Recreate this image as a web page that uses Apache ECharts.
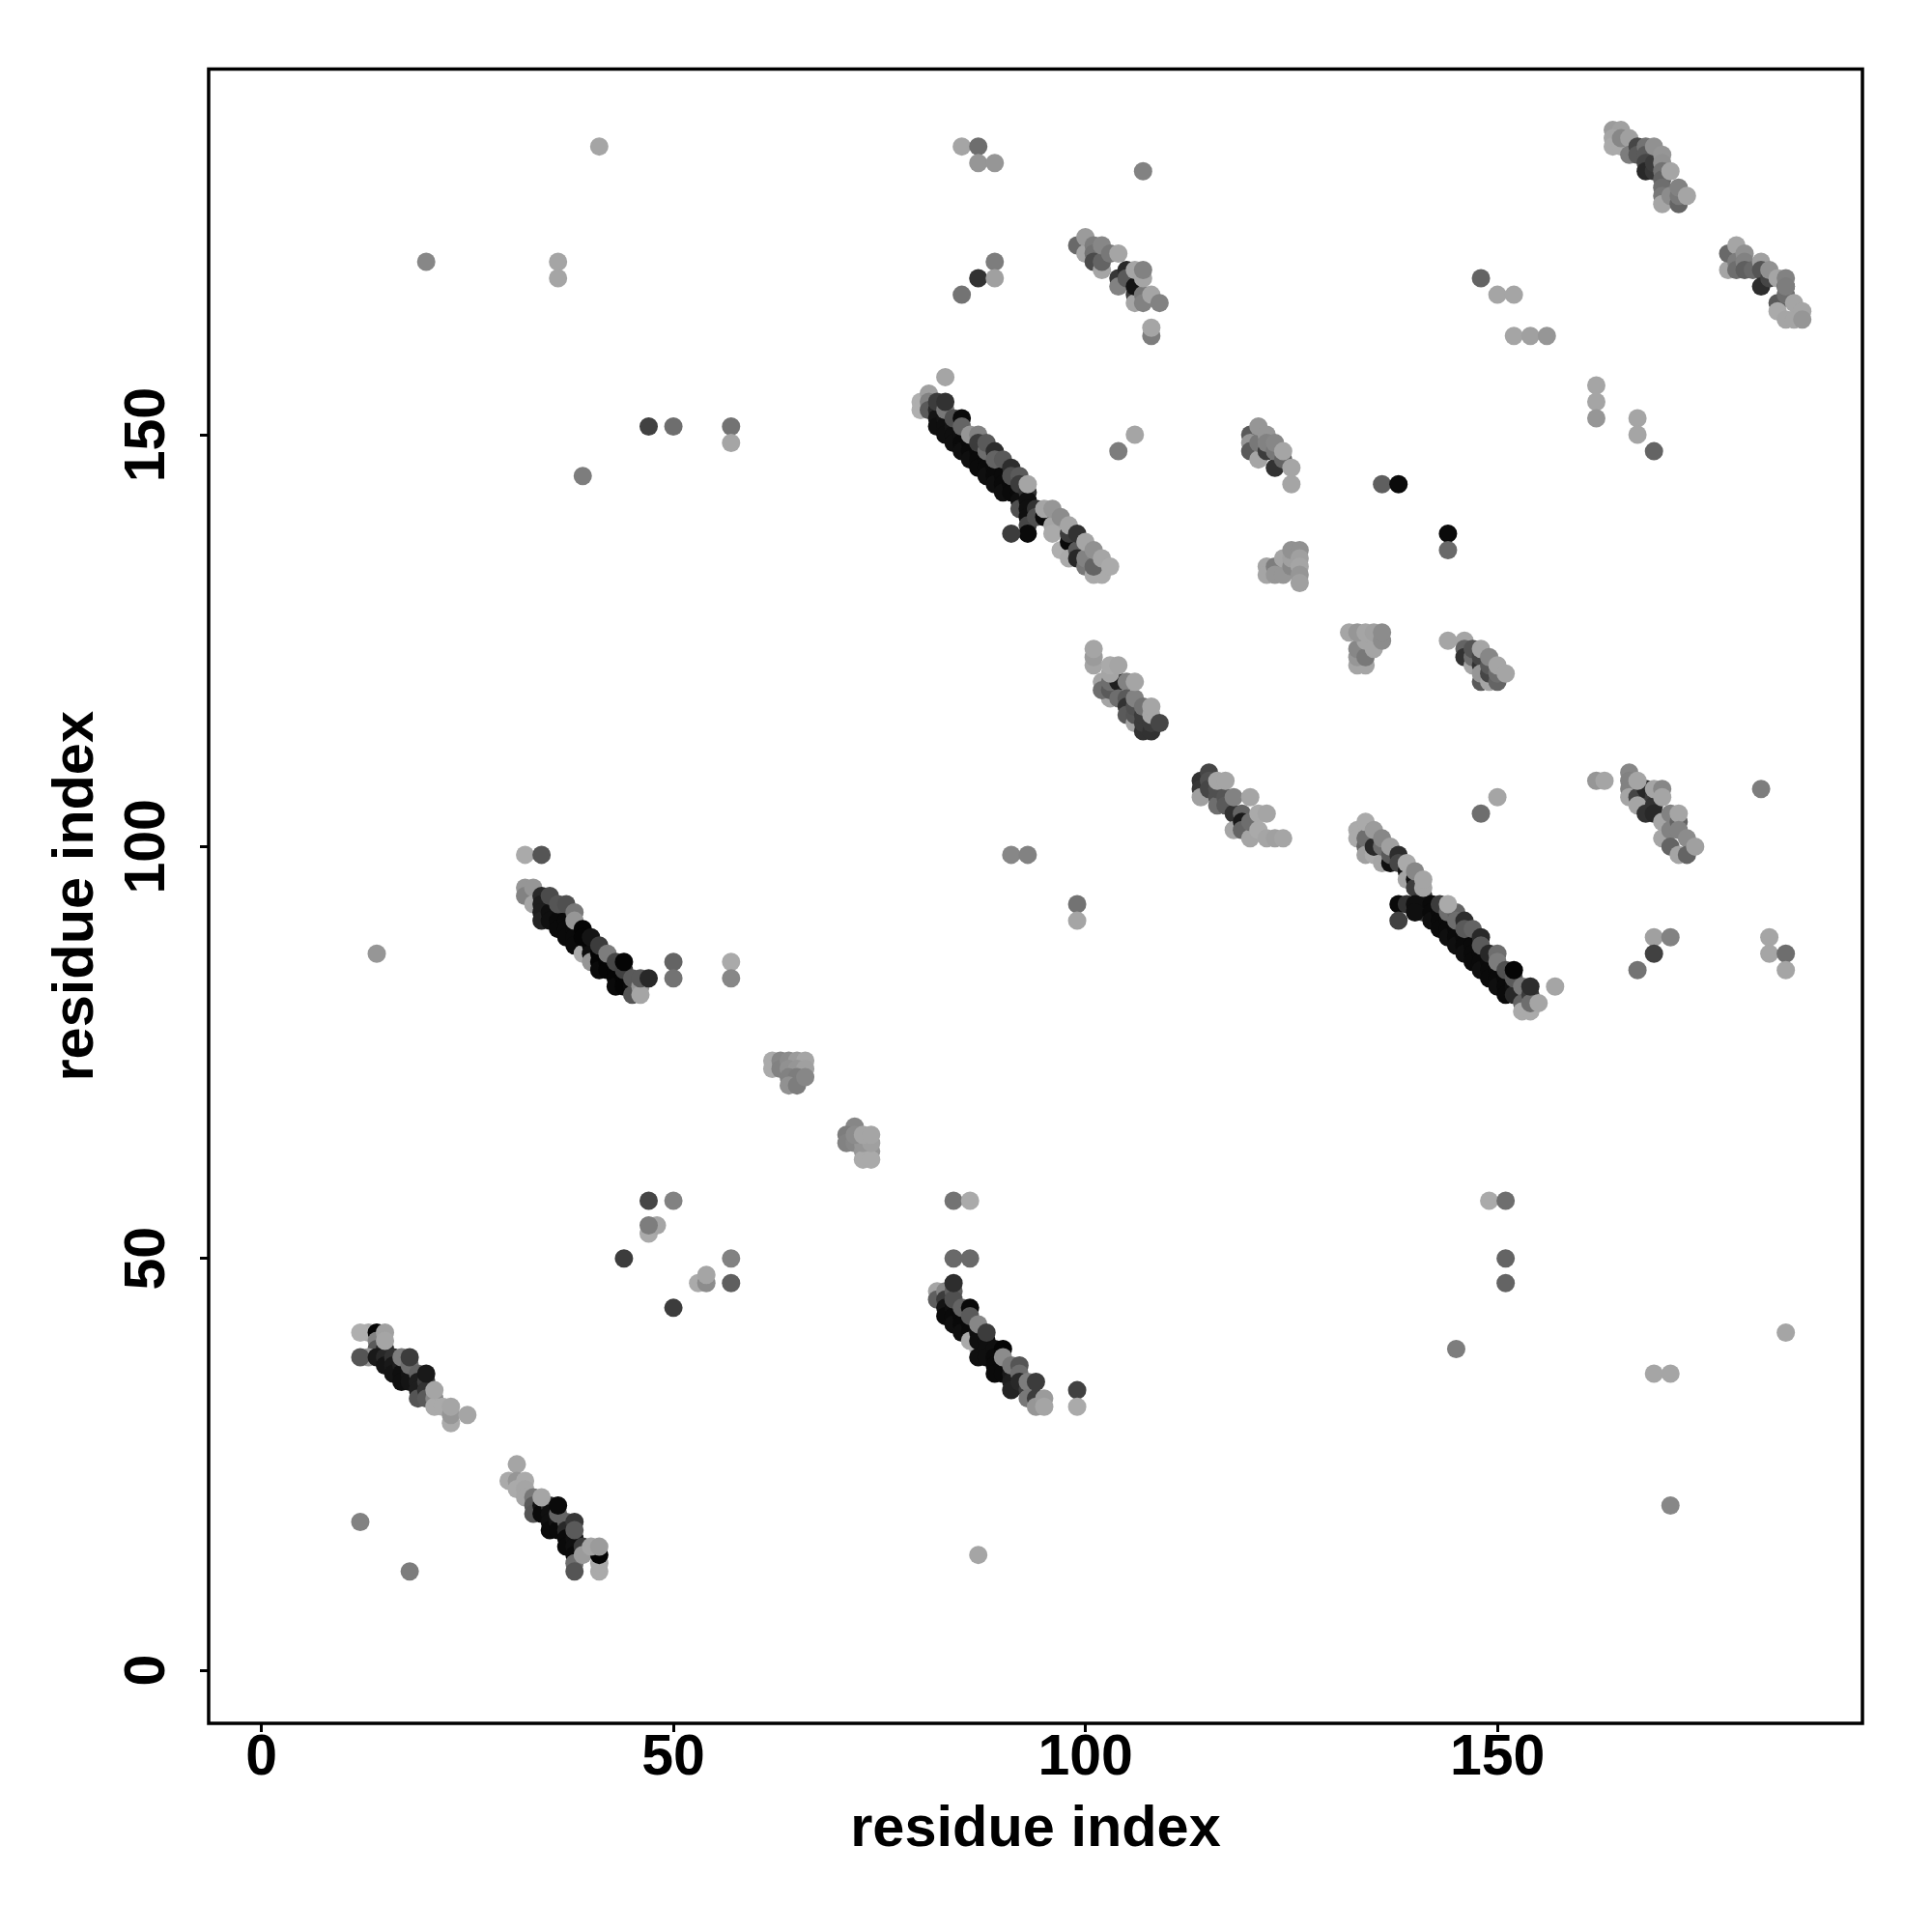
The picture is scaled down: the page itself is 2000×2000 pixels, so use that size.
<!DOCTYPE html>
<html><head><meta charset="utf-8">
<style>html,body{margin:0;padding:0;background:#fff}#c{width:2000px;height:2000px}</style>
<script src="https://cdn.jsdelivr.net/npm/echarts@6/dist/echarts.min.js"></script>
</head><body><div id="c"></div>
<script>
// each point: [residue x, residue y, grey shade 0-255]; later points paint over earlier ones
const isolated = [
[41,185,165],[20,171,135],[36,171,165],[36,169,165],[85,185,165],[87,185,110],[87,183,150],[89,183,150],[107,182,130],
[85,167,115],[87,169,50],[89,171,125],[89,169,160],[148,169,100],[150,167,165],[152,167,165],[152,162,165],[154,162,160],[156,162,150],
[162,156,165],[162,154,165],[162,152,150],[167,152,165],[167,150,165],[169,148,100],[106,150,165],[104,148,125],
[47,151,65],[50,151,110],[57,151,115],[57,149,165],[39,145,125],[136,144,95],[138,144,10],[144,138,10],[144,136,105],
[32,99,170],[34,99,85],[91,99,135],[93,99,130],[99,93,115],[99,91,165],[14,87,150],[50,86,100],[50,84,115],[57,86,170],[57,84,135],
[148,104,110],[150,106,165],[182,107,125],[157,83,165],[167,85,115],[169,89,160],[171,89,130],[169,87,65],
[183,89,165],[183,87,165],[185,87,110],[185,85,165],[47,57,70],[50,57,130],[47,53,170],[48,54,165],[47,54,125],
[44,50,60],[57,50,130],[57,47,95],[53,47,170],[54,47,140],[54,48,165],[50,44,60],[84,57,115],[86,57,170],[84,50,105],[86,50,105],
[149,57,170],[151,57,110],[151,50,100],[151,47,100],[145,39,125],[185,41,165],[169,36,165],[171,36,165],[171,20,135],
[99,34,65],[99,32,170],[12,18,130],[18,12,125],[87,14,165]
];
const bandA = [
[13,41,170],[12,41,175],[14,41,5],[14,40,130],[14,39,90],[15,39,40],[13,38,150],[12,38,85],[14,38,25],[15,38,40],[15,37,20],[16,38,50],[16,37,25],
[16,36,20],[17,37,30],[17,36,15],[17,35,15],[18,36,20],[18,35,20],[17,38,125],[18,37,110],[19,36,100],[19,35,30],[19,34,30],[20,35,60],[19,33,85],[20,34,50],[20,33,90],
[15,41,160],[15,40,165],[18,38,60],[20,36,25],[21,33,135],[21,32,170],[22,32,170],[23,30,170],[23,31,150],[23,32,165],[21,34,165],[25,31,165]
];
const bandB = [
[30,23,170],[31,25,165],[31,23,150],[32,23,170],[31,22,170],[32,22,165],[32,21,165],[33,21,120],[33,20,90],[33,19,85],[34,20,20],[34,19,10],[35,20,50],[35,19,15],
[35,18,15],[35,17,10],[36,18,20],[36,17,10],[36,19,100],[37,18,100],[37,17,40],[37,16,10],[37,15,10],[38,16,15],[38,15,15],[34,21,165],[36,20,10],[38,18,55],[38,17,90],
[38,14,10],[38,13,110],[38,12,85],[39,15,60],[39,14,155],[41,12,170],[41,13,170],[41,14,5],[40,15,165],[41,15,155]
];
const bandC = [
[32,95,150],[32,94,130],[33,95,150],[33,93,165],[34,94,40],[34,93,30],[34,92,30],[34,91,35],[35,92,15],[35,91,15],[36,91,10],[36,90,10],[37,91,10],[37,90,10],[37,89,10],[38,90,10],[38,89,10],[38,88,10],
[39,87,170],[40,88,10],[40,87,15],[40,86,150],[41,87,5],[41,86,5],[41,85,10],[42,86,5],[42,85,5],[43,85,5],[43,84,5],[43,83,10],[44,84,5],[44,83,5],[45,83,10],[45,82,85],
[35,94,75],[36,93,85],[37,93,80],[38,92,120],[38,91,150],[39,90,5],[39,89,5],[40,89,20],[41,88,60],[42,87,125],[43,86,70],[44,85,65],[45,84,90],[46,83,150],[46,82,165],[44,86,5],[46,84,90],[47,84,40]
];
const clusterD = [[62,74,170],[62,73,170],[63,74,135],[63,73,130],[64,74,140],[65,74,155],[66,74,165],[64,73,145],[65,73,150],[66,73,160],[64,72,130],[65,72,125],[64,71,145],[65,71,125],[66,72,135]];
const clusterE = [[72,66,135],[71,65,125],[71,64,130],[72,64,135],[73,63,150],[74,63,150],[73,62,170],[74,62,170],[73,64,150],[74,64,160],[72,65,140],[73,65,165],[74,65,165]];
const bandF = [
[82,46,165],[82,45,95],[83,46,135],[83,45,60],[83,44,20],[83,43,10],[84,44,15],[84,43,10],[84,42,15],[85,43,10],[85,42,10],[85,41,15],[86,42,10],[86,41,10],[86,40,170],[87,39,170],[87,41,15],[87,40,15],[87,38,15],[88,40,15],[88,39,15],[88,38,15],[89,39,15],[89,38,10],[89,37,10],[89,36,10],[90,37,10],[90,36,10],[91,36,25],[91,35,30],[91,34,35],
[84,46,95],[84,45,80],[84,47,45],[85,44,100],[86,44,10],[86,43,90],[87,42,135],[88,41,60],[90,39,5],[90,38,140],[91,37,120],[92,37,85],[92,36,110],[92,35,40],[93,34,60],[93,35,125],[93,33,120],[94,33,60],[94,32,150],[94,35,60],[95,33,155],[95,32,165]
];
const bandG = [
[80,154,175],[80,153,175],[81,155,160],[81,154,130],[81,153,90],[82,153,40],[82,152,20],[82,151,15],[83,152,20],[83,151,15],[83,150,15],[84,151,20],[84,150,15],[84,149,15],[85,150,15],[85,149,10],[85,148,15],[86,149,10],[86,148,10],[86,147,15],[87,148,10],[87,147,10],[87,146,10],[88,147,10],[88,146,10],[88,145,15],[89,146,10],[89,145,10],[89,144,15],[90,145,10],[90,144,10],[90,143,15],[91,144,10],[91,143,10],[92,143,10],[92,142,15],[92,141,80],
[83,157,165],[82,154,60],[83,153,120],[83,154,50],[84,152,80],[85,152,10],[85,151,100],[86,150,150],[87,150,130],[87,149,60],[88,148,110],[88,149,90],[89,148,45],[89,147,100],[90,147,90],[91,146,45],[91,145,80],[92,145,90],[92,144,60],
[93,143,50],[93,142,15],[93,141,15],[93,140,15],[93,139,70],[93,138,10],[91,138,60],[94,141,50],[94,140,80],[93,144,165],
[95,140,10],[96,139,165],[96,138,170],[95,141,165],[96,141,150],[97,140,140],[97,136,175],[98,137,10],[98,138,60],[98,135,170],[98,139,165],[99,136,90],[99,135,40],[99,138,50],[100,134,120],[101,133,170],[102,133,170],[100,135,130],[100,137,165],[101,134,100],[101,136,145],[102,135,165],[103,134,170]
];
const bandH = [
[133,102,170],[133,101,170],[134,100,100],[134,101,110],[134,99,160],[135,99,170],[135,100,40],[136,98,165],[137,98,15],[134,103,170],[135,102,155],[136,100,110],[136,101,135],[137,99,90],[137,100,160],[138,99,45],[138,98,70],
[139,97,20],[139,96,165],[140,96,15],[140,95,60],[139,98,170],[140,97,135],[141,94,60],[141,93,15],[141,92,60],[141,95,165],[141,96,165],[138,93,10],[138,91,65],[139,93,50],[140,93,15],[140,92,15],[142,93,10],[142,92,10],[142,91,15],
[143,92,10],[143,91,10],[143,90,10],[144,91,10],[144,90,10],[144,89,15],[145,90,10],[145,89,10],[145,88,15],[146,89,10],[146,88,10],[146,87,15],[147,88,10],[147,87,10],[147,86,10],[148,87,10],[148,86,10],[148,85,15],[149,86,10],[149,85,10],[149,84,10],[150,85,10],[150,84,10],[150,83,15],[151,84,10],[151,83,10],[151,82,10],[152,83,15],[152,82,40],
[143,93,60],[144,92,110],[145,92,100],[145,91,110],[146,91,45],[146,90,90],[147,90,100],[148,89,40],[148,88,90],[149,87,40],[150,87,110],[150,86,125],[151,85,80],[152,84,90],[152,85,5],[153,83,120],[153,81,100],[153,80,170],[154,80,170],[154,82,60],[154,81,110],[144,93,170],[154,83,45],[155,81,165]
];
const clusterI = [
[164,187,155],[165,187,160],[164,186,165],[164,185,170],[165,185,170],[165,186,135],[166,186,160],[166,184,125],[167,185,70],[167,184,90],[168,185,115],[168,184,90],[168,183,70],[168,182,40],[169,182,55],[169,183,60],[169,185,145],
[170,184,150],[170,183,145],[170,182,115],[170,181,100],[170,180,110],[170,179,120],[170,178,165],[171,182,165],[171,179,140],[172,178,100],[172,179,120],[172,180,130],[173,179,165]
];
const clusterJ = [
[178,170,165],[178,172,105],[179,173,165],[179,171,125],[179,170,110],[180,172,145],[180,171,130],[180,170,95],[181,170,105],[182,171,160],[182,170,85],[182,168,45],[183,169,70],[183,170,145],[184,169,165],
[184,166,90],[184,165,170],[185,168,60],[185,167,110],[185,164,165],[186,164,165],[185,169,130],[185,168,125],[186,166,165],[187,165,165],[187,164,150]
];
const clusterK = [
[99,173,105],[100,172,165],[100,174,155],[101,173,125],[101,172,115],[101,171,75],[102,170,165],[102,171,100],[102,173,135],[103,172,120],[104,169,55],[104,168,130],[104,172,165],[105,170,40],[105,169,90],[106,167,60],[106,166,165],[106,168,20],[107,167,120],[107,166,130],[106,170,165],[107,169,165],[107,170,130],[108,167,165],[109,166,130],[108,162,125],[108,163,165]
];
const clusterL = [[120,150,90],[120,149,150],[120,148,90],[121,147,165],[121,149,120],[121,151,150],[122,148,60],[122,150,150],[122,149,130],[123,146,50],[123,148,120],[123,149,135],[124,147,100],[124,148,165],[125,146,165],[125,144,165]];
const clusterM = [[122,134,165],[122,133,165],[123,134,125],[123,133,150],[124,133,150],[124,135,165],[125,134,135],[125,135,160],[125,136,145],[126,136,145],[126,135,160],[126,134,165],[126,133,150],[126,132,160]];
const clusterN = [[132,126,165],[133,122,165],[134,122,165],[133,123,150],[133,124,135],[134,123,120],[134,125,165],[135,124,165],[133,126,150],[134,126,165],[135,126,160],[136,125,140],[136,126,140]];
const clusterO = [[144,125,165],[146,125,165],[146,124,100],[146,123,50],[147,122,165],[147,123,110],[147,124,85],[148,120,90],[148,122,50],[148,123,70],[148,121,150],[149,120,165],[149,121,70],[149,122,90],[150,120,100],[150,121,110],[148,124,165],[149,123,135],[150,122,165],[151,121,165]];
const clusterP = [[101,122,165],[101,123,155],[101,124,165],[102,120,165],[103,118,165],[102,119,110],[103,119,90],[103,120,110],[104,120,30],[104,118,110],[103,121,165],[103,122,170],[104,122,165],[105,120,130],[105,118,90],[105,117,50],[105,116,90],[106,115,165],[106,116,85],[106,117,80],[106,118,130],[106,120,165],[107,114,50],[107,115,60],[107,116,60],[107,117,115],[108,114,50],[108,115,60],[108,116,165],[108,117,165],[109,115,70]];
const clusterQ = [[114,108,50],[114,107,55],[114,106,160],[115,109,70],[115,108,80],[115,107,70],[116,106,80],[116,105,110],[116,107,80],[117,106,85],[117,105,90],[118,104,50],[118,102,165],[119,104,100],[119,103,25],[119,102,100],[120,101,165],[120,103,110],[116,108,165],[117,108,165],[118,106,130],[120,106,165],[121,104,170],[121,102,170],[122,104,165],[122,101,165],[123,101,160],[124,101,165]];
const clusterR = [[162,108,150],[163,108,165],[166,109,135],[166,108,130],[166,107,130],[166,106,165],[167,106,70],[167,105,165],[168,104,50],[168,107,40],[167,108,165],[169,106,60],[169,105,50],[169,104,40],[169,107,165],[170,107,135],[170,106,165],[170,103,165],[170,101,165],[171,104,130],[171,102,130],[171,100,100],[172,103,100],[172,99,165],[172,104,165],[172,102,130],[173,101,140],[173,99,100],[174,100,160]];

const xTicks = [0, 50, 100, 150];
const yTicks = [0, 50, 100, 150];
const axisTitle = 'residue index';

const points = [].concat(isolated, bandA, bandB, bandC, clusterD, clusterE, bandF, bandG, bandH,
  clusterI, clusterJ, clusterK, clusterL, clusterM, clusterN, clusterO, clusterP, clusterQ, clusterR);

const font = '"Liberation Sans", Arial, sans-serif';
const chart = echarts.init(document.getElementById('c'), null, {renderer:'canvas'});
chart.setOption({
  animation:false,
  backgroundColor:'#fff',
  grid:{left:216,right:72,top:71.5,bottom:216,show:true,borderColor:'#000',borderWidth:3.5,backgroundColor:'#fff'},
  xAxis:{type:'value',min:-6.4,max:194.3,
    axisLine:{show:false,onZero:false},splitLine:{show:false},
    axisTick:{show:true,length:9,lineStyle:{color:'#000',width:3},customValues:xTicks},
    axisLabel:{color:'#000',fontFamily:font,fontWeight:'bold',fontSize:59,margin:7,customValues:xTicks,formatter:v=>String(v)},
    name:axisTitle,nameLocation:'middle',nameGap:81,
    nameTextStyle:{color:'#000',fontFamily:font,fontWeight:'bold',fontSize:59.5}},
  yAxis:{type:'value',min:-6.45,max:194.4,
    axisLine:{show:false,onZero:false},splitLine:{show:false},
    axisTick:{show:true,length:9,lineStyle:{color:'#000',width:3},customValues:yTicks},
    axisLabel:{color:'#000',fontFamily:font,fontWeight:'bold',fontSize:59,rotate:90,margin:33,align:'center',customValues:yTicks,formatter:v=>String(v)},
    name:axisTitle,nameLocation:'middle',nameGap:106,nameRotate:90,
    nameTextStyle:{color:'#000',fontFamily:font,fontWeight:'bold',fontSize:59.5}},
  series:[{type:'scatter',symbol:'circle',symbolSize:19,data:points,large:false,progressive:0,
    itemStyle:{opacity:1,color:p=>{const g=p.value[2];return 'rgb('+g+','+g+','+g+')';}},
    emphasis:{disabled:true}}]
});
</script></body></html>
